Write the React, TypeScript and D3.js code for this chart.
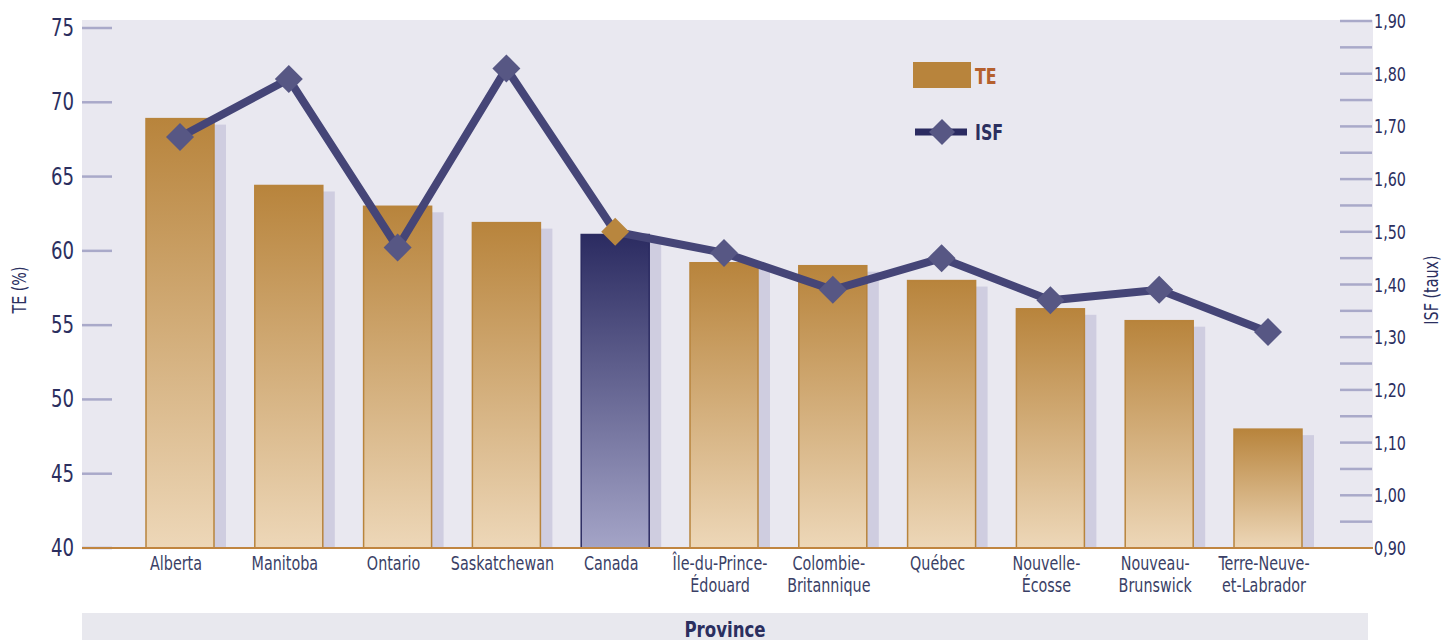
import React, { useEffect } from "react";
import * as d3 from "d3";

const categories = [
  ["Alberta"],
  ["Manitoba"],
  ["Ontario"],
  ["Saskatchewan"],
  ["Canada"],
  ["Île-du-Prince-", "Édouard"],
  ["Colombie-", "Britannique"],
  ["Québec"],
  ["Nouvelle-", "Écosse"],
  ["Nouveau-", "Brunswick"],
  ["Terre-Neuve-", "et-Labrador"],
];
const teValues = [68.9, 64.4, 63.0, 61.9, 61.1, 59.2, 59.0, 58.0, 56.1, 55.3, 48.0];
const isfValues = [1.68, 1.79, 1.47, 1.81, 1.5, 1.46, 1.39, 1.45, 1.37, 1.39, 1.31];
const highlight = "Canada";
const leftTicks = [40, 45, 50, 55, 60, 65, 70, 75];
const rightMajorTicks = [0.9, 1.0, 1.1, 1.2, 1.3, 1.4, 1.5, 1.6, 1.7, 1.8, 1.9];
const rightMinorTicks = [0.95, 1.05, 1.15, 1.25, 1.35, 1.45, 1.55, 1.65, 1.75, 1.85];

const FONT = "'Liberation Sans Narrow', 'DejaVu Sans Condensed', 'Roboto', sans-serif";
const NAVY = "#2b2f5f";
const SX = 0.84;

type TProps = {
  x: number;
  y: number;
  size: number;
  fill: string;
  anchor?: "start" | "middle" | "end";
  bold?: boolean;
  rotate?: number;
  children: React.ReactNode;
};

function T({ x, y, size, fill, anchor = "start", bold = false, rotate = 0, children }: TProps) {
  return (
    <g transform={`translate(${x},${y}) rotate(${rotate}) scale(${SX},1)`}>
      <text x={0} y={0} textAnchor={anchor} fontSize={size} fontWeight={bold ? "bold" : "normal"} fill={fill}>
        {children}
      </text>
    </g>
  );
}

export default function App() {
  useEffect(() => {
    document.body.style.margin = "0";
  }, []);

  const W = 1442;
  const H = 640;
  const plotL = 82;
  const plotR = 1373;
  const plotT = 20;
  const plotB = 548;

  const names = categories.map((c) => c.join(""));
  const x = d3
    .scaleBand<string>()
    .domain(names)
    .range([125.6, 1322.4])
    .paddingInner(0.375)
    .paddingOuter(0.1875);
  const yL = d3.scaleLinear().domain([40, 75]).range([plotB, 28]);
  const yR = d3.scaleLinear().domain([0.9, 1.9]).range([plotB, 21]);

  const bw = x.bandwidth();
  const cx = (n: string) => (x(n) as number) + bw / 2;

  const line = d3
    .line<number>()
    .x((_, i) => cx(names[i]))
    .y((d) => yR(d));

  const diamond = (px: number, py: number, r: number) =>
    `M${px},${py - r}L${px + r},${py}L${px},${py + r}L${px - r},${py}Z`;

  return (
    <svg width={W} height={H} style={{ display: "block" }} fontFamily={FONT}>
      <defs>
        <linearGradient id="gOrange" x1="0" y1="0" x2="0" y2="1">
          <stop offset="0" stopColor="#b8843c" />
          <stop offset="1" stopColor="#edd7b8" />
        </linearGradient>
        <linearGradient id="gNavy" x1="0" y1="0" x2="0" y2="1">
          <stop offset="0" stopColor="#2b2b61" />
          <stop offset="1" stopColor="#a4a4c7" />
        </linearGradient>
      </defs>
      <rect x={0} y={0} width={W} height={H} fill="#ffffff" />
      <rect x={plotL} y={plotT} width={plotR - plotL} height={plotB - plotT} fill="#e9e8f0" />

      {/* left ticks */}
      {leftTicks.map((t) => (
        <g key={"l" + t}>
          <line x1={plotL} x2={112} y1={yL(t)} y2={yL(t)} stroke="#a9a9c9" strokeWidth={2.5} />
          <T x={74} y={yL(t) + 8} anchor="end" size={24} fill={NAVY}>
            {t}
          </T>
        </g>
      ))}

      {/* right ticks */}
      {rightMinorTicks.map((t) => (
        <line key={"m" + t} x1={1340} x2={1372} y1={yR(t)} y2={yR(t)} stroke="#a9a9c9" strokeWidth={2.5} />
      ))}
      {rightMajorTicks.map((t) => (
        <g key={"r" + t}>
          {t > 0.9 && (
            <line x1={1340} x2={1372} y1={yR(t)} y2={yR(t)} stroke="#a9a9c9" strokeWidth={2.5} />
          )}
          <T x={1374} y={yR(t) + 7} size={19} fill={NAVY}>
            {d3.format(".2f")(t).replace(".", ",")}
          </T>
        </g>
      ))}

      {/* bars with shadows */}
      {names.map((n, i) => (
        <rect
          key={"s" + n}
          x={(x(n) as number) + 12}
          y={yL(teValues[i]) + 6}
          width={bw}
          height={plotB - yL(teValues[i]) - 6}
          fill="#cfcde0"
        />
      ))}
      {names.map((n, i) => {
        const isH = n === highlight;
        return (
          <rect
            key={"b" + n}
            x={x(n) as number}
            y={yL(teValues[i])}
            width={bw}
            height={plotB - yL(teValues[i])}
            fill={isH ? "url(#gNavy)" : "url(#gOrange)"}
            stroke={isH ? "#2b2b61" : "#b8843c"}
            strokeWidth={1.5}
          />
        );
      })}

      {/* axis line */}
      <line x1={plotL} x2={plotR} y1={plotB} y2={plotB} stroke="#c08540" strokeWidth={2} />

      {/* ISF line */}
      <path d={line(isfValues) as string} fill="none" stroke="#454577" strokeWidth={8} strokeLinejoin="miter" />
      {names.map((n, i) => (
        <path
          key={"d" + n}
          d={diamond(cx(n), yR(isfValues[i]), 14)}
          fill={n === highlight ? "#b8863e" : "#575784"}
        />
      ))}

      {/* category labels */}
      {categories.map((c, i) =>
        c.map((ln, j) => (
          <T key={"c" + i + "-" + j} x={cx(names[i]) - 4} y={570 + j * 22} anchor="middle" size={19} fill="#3a3f66">
            {ln}
          </T>
        ))
      )}

      {/* axis titles */}
      <T x={26} y={290} rotate={-90} anchor="middle" size={19} fill={NAVY}>
        TE (%)
      </T>
      <T x={1438} y={290} rotate={-90} anchor="middle" size={19} fill={NAVY}>
        ISF (taux)
      </T>

      {/* bottom band */}
      <rect x={plotL} y={613} width={1368 - plotL} height={H - 613} fill="#e8e8ee" />
      <T x={725} y={637} anchor="middle" size={22} bold fill={NAVY}>
        Province
      </T>

      {/* legend */}
      <rect x={913} y={62} width={58} height={26} fill="#b8843c" />
      <T x={975} y={84} size={21} bold fill="#b5602e">
        TE
      </T>
      <line x1={915} x2={967} y1={132} y2={132} stroke="#2b2b61" strokeWidth={7} />
      <path d={diamond(942, 132, 13)} fill="#575784" />
      <T x={975} y={140} size={21} bold fill={NAVY}>
        ISF
      </T>
    </svg>
  );
}
